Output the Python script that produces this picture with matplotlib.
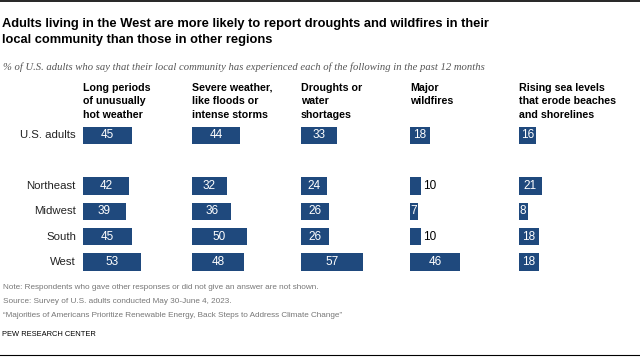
import matplotlib
matplotlib.use("Agg")
import matplotlib.pyplot as plt
from matplotlib.lines import Line2D

SANS = "Liberation Sans"

categories = ["Long periods\nof unusually\nhot weather",
              "Severe weather,\nlike floods or\nintense storms",
              "Droughts or\nwater\nshortages",
              "Major\nwildfires",
              "Rising sea levels\nthat erode beaches\nand shorelines"]
groups = ["U.S. adults", "Northeast", "Midwest", "South", "West"]
hot_weather = [45, 42, 39, 45, 53]
severe_weather = [44, 32, 36, 50, 48]
droughts = [33, 24, 26, 26, 57]
wildfires = [18, 10, 7, 10, 46]
sea_levels = [16, 21, 8, 18, 18]
series = [hot_weather, severe_weather, droughts, wildfires, sea_levels]

title = ("Adults living in the West are more likely to report droughts and wildfires in their\n"
         "local community than those in other regions")
subtitle = "% of U.S. adults who say that their local community has experienced each of the following in the past 12 months"
notes = ["Note: Respondents who gave other responses or did not give an answer are not shown.",
         "Source: Survey of U.S. adults conducted May 30-June 4, 2023.",
         "\u201cMajorities of Americans Prioritize Renewable Energy, Back Steps to Address Climate Change\u201d"]
brand = "PEW RESEARCH CENTER"

W, H = 640, 360
BLUE = "#1f497d"
fig = plt.figure(figsize=(W / 100, H / 100), dpi=100)

def fx(x):
    return x / W

def fy(y):
    return 1 - y / H

# axes: x 83..628 px covers 0..500 units; rows unit = 25.33 px
row_pos = [0, 2, 3, 4, 5]
top_px, bot_px = 120.1, 274.7
ax = fig.add_axes([fx(83), fy(bot_px), (628 - 83) / W, (bot_px - top_px) / H])
ax.set_xlim(0, 500)
ax.set_ylim(5.5, -0.6)
ax.axis("off")

for ci, vals in enumerate(series):
    off = ci * 100
    ax.barh(row_pos, vals, left=off, height=0.68, color=BLUE)
    for r, v in zip(row_pos, vals):
        if 10 <= v < 12:
            ax.text(off + v + 2, r, str(v), ha="left", va="center",
                    fontsize=8.5, color="black", family=SANS)
        elif v < 10:
            ax.text(off + 0.3, r, str(v), ha="left", va="center",
                    fontsize=8.5, color="white", family=SANS)
        else:
            ax.text(off + v / 2, r, str(v), ha="center", va="center",
                    fontsize=8.5, color="white", family=SANS)
    fig.text(fx(83 + ci * 109), fy(83), categories[ci], ha="left", va="top",
             fontsize=7.7, fontweight="bold", family=SANS, linespacing=1.42)

for g, r in zip(groups, row_pos):
    ax.text(-6.5, r, g, ha="right", va="center", fontsize=8.2, family=SANS, color="#222222")

fig.text(fx(2), fy(18), title, ha="left", va="top", fontsize=9.3,
         fontweight="bold", family=SANS, linespacing=1.5)
fig.text(fx(3), fy(67), subtitle, ha="left", va="center", fontsize=7.7,
         style="italic", family="Liberation Serif", color="#555555")

for i, n in enumerate(notes):
    fig.text(fx(3), fy(287.5 + i * 14), n, ha="left", va="center",
             fontsize=5.9, family=SANS, color="#777777")
fig.text(fx(2), fy(335), brand, ha="left", va="center", fontsize=5.4,
         family=SANS, color="black")

fig.add_artist(Line2D([0, 1], [fy(1), fy(1)], color="black", lw=1.2, transform=fig.transFigure))
fig.add_artist(Line2D([0, 1], [fy(355), fy(355)], color="black", lw=0.8, transform=fig.transFigure))

fig.savefig("out.png", dpi=100)
